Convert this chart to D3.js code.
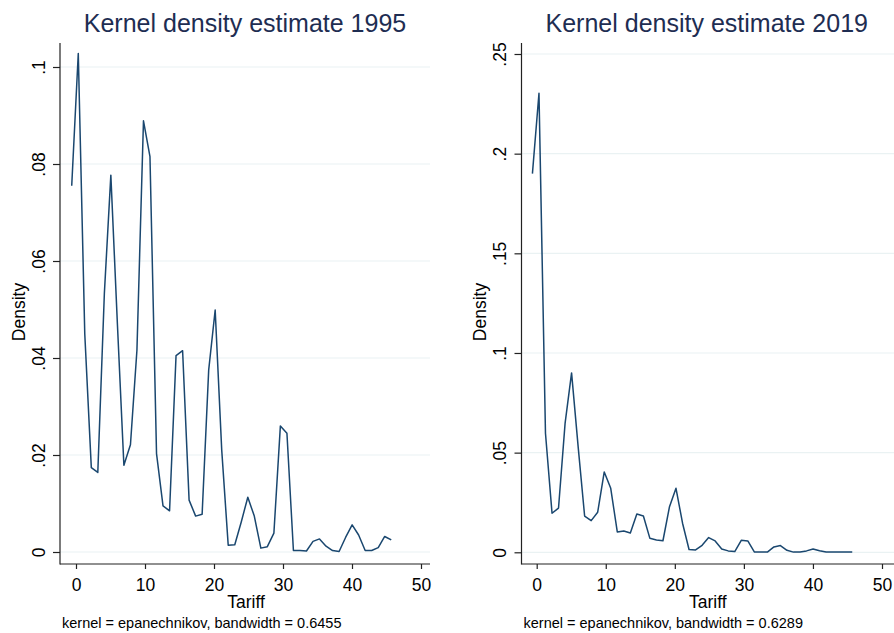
<!DOCTYPE html>
<html>
<head>
<meta charset="utf-8">
<script src="https://cdn.jsdelivr.net/npm/d3@7"></script>
<style>
  body { margin: 0; background: #fff; }
  svg { display: block; font-family: "Liberation Sans", Arial, sans-serif; }
</style>
</head>
<body>
<svg id="chart" width="894" height="633"></svg>
<script>
'use strict'

// evaluation points of the kernel density (tariff)
var tariffGrid = [-0.62, 0.33, 1.27, 2.22, 3.16, 4.11, 5.05, 6.00, 6.94, 7.89,
  8.83, 9.78, 10.72, 11.67, 12.61, 13.56, 14.50, 15.45, 16.39, 17.34,
  18.28, 19.23, 20.17, 21.12, 22.06, 23.01, 23.95, 24.90, 25.84, 26.79,
  27.73, 28.68, 29.62, 30.57, 31.51, 32.46, 33.40, 34.35, 35.29, 36.24,
  37.18, 38.13, 39.07, 40.02, 40.96, 41.91, 42.85, 43.80, 44.74, 45.69];

var density1995 = [0.0755, 0.1028, 0.0450, 0.0174, 0.0164, 0.0533, 0.0777, 0.0470, 0.0179, 0.0221,
  0.0416, 0.0889, 0.0815, 0.0203, 0.0095, 0.0085, 0.0405, 0.0415, 0.0107, 0.0074,
  0.0078, 0.0375, 0.0499, 0.0210, 0.0014, 0.0015, 0.0062, 0.0113, 0.0074, 0.0008,
  0.0011, 0.0039, 0.0260, 0.0245, 0.0003, 0.0003, 0.0002, 0.0022, 0.0027, 0.0012,
  0.0003, 0.0001, 0.0030, 0.0056, 0.0035, 0.0003, 0.0003, 0.0009, 0.0032, 0.0025];

var density2019 = [0.1900, 0.2303, 0.0597, 0.0196, 0.0222, 0.0647, 0.0900, 0.0530, 0.0182, 0.0159,
  0.0201, 0.0403, 0.0321, 0.0102, 0.0107, 0.0097, 0.0192, 0.0182, 0.0070, 0.0062,
  0.0058, 0.0229, 0.0321, 0.0146, 0.0014, 0.0012, 0.0035, 0.0074, 0.0057, 0.0017,
  0.0007, 0.0004, 0.0060, 0.0057, 0.0002, 0.0002, 0.0001, 0.0027, 0.0034, 0.0010,
  0.0001, 0.0001, 0.0007, 0.0017, 0.0008, 0.0001, 0.0001, 0.0001, 0.0001, 0.0001];

var xTicks = [0, 10, 20, 30, 40, 50];
var yTicks1995 = [0, 0.02, 0.04, 0.06, 0.08, 0.1];
var yLabels1995 = ["0", ".02", ".04", ".06", ".08", ".1"];
var yTicks2019 = [0, 0.05, 0.1, 0.15, 0.2, 0.25];
var yLabels2019 = ["0", ".05", ".1", ".15", ".2", ".25"];

var svg = d3.select("#chart");

function drawPanel(config) {
  var g = svg.append("g");

  var x = d3.scaleLinear().domain([0, 50]).range([config.x0, config.x50]);
  var y = d3.scaleLinear().domain([0, config.yMax]).range([config.y0, config.yTop]);

  // grid
  g.selectAll("line.grid")
    .data(config.yTicks)
    .enter().append("line")
    .attr("class", "grid")
    .attr("x1", config.left).attr("x2", config.right)
    .attr("y1", function(d) { return y(d); })
    .attr("y2", function(d) { return y(d); })
    .style("stroke", "#eaf2f3")
    .style("stroke-width", 1.2);

  // y axis
  var yAxis = d3.axisLeft(y)
    .tickValues(config.yTicks)
    .tickSize(7)
    .tickFormat(function(d, i) { return config.yLabels[i]; });

  var ya = g.append("g")
    .attr("transform", "translate(" + config.left + ",0)")
    .call(yAxis);
  ya.select(".domain").remove();
  ya.selectAll(".tick line").style("stroke", "#222").style("stroke-width", 1.2);
  ya.selectAll(".tick text")
    .attr("x", 0).attr("y", 0).attr("dy", 0)
    .attr("transform", "translate(" + (-15.5) + ",0) rotate(-90)")
    .style("text-anchor", "middle")
    .style("font-size", "17.5px")
    .style("fill", "#000");

  // x axis
  var xAxis = d3.axisBottom(x)
    .tickValues(xTicks)
    .tickSize(5)
    .tickPadding(6);

  var xa = g.append("g")
    .attr("transform", "translate(0," + config.bottom + ")")
    .call(xAxis);
  xa.select(".domain").remove();
  xa.selectAll(".tick line").style("stroke", "#222").style("stroke-width", 1.2);
  xa.selectAll(".tick text")
    .attr("dy", 0).attr("y", 26.5)
    .style("font-size", "17.5px")
    .style("fill", "#000");

  // axis lines
  g.append("line")
    .attr("x1", config.left).attr("x2", config.left)
    .attr("y1", config.top).attr("y2", config.bottom + 0.6)
    .style("stroke", "#222").style("stroke-width", 1.2);
  g.append("line")
    .attr("x1", config.left).attr("x2", config.right)
    .attr("y1", config.bottom).attr("y2", config.bottom)
    .style("stroke", "#222").style("stroke-width", 1.2);

  // density curve
  var line = d3.line()
    .x(function(d, i) { return x(tariffGrid[i]); })
    .y(function(d) { return y(d); });

  g.append("path")
    .datum(config.values)
    .attr("d", line)
    .style("fill", "none")
    .style("stroke", "#1a476f")
    .style("stroke-width", 1.5)
    .style("stroke-linejoin", "round");

  // titles and labels
  var mid = (config.left + config.plotRight) / 2;
  g.append("text")
    .attr("x", mid).attr("y", 32)
    .attr("text-anchor", "middle")
    .style("font-size", "25px")
    .style("fill", "#1e2d52")
    .text(config.title);

  g.append("text")
    .attr("x", mid + 1).attr("y", 607.5)
    .attr("text-anchor", "middle")
    .style("font-size", "17.5px")
    .text("Tariff");

  g.append("text")
    .attr("transform", "translate(" + (config.left - 35.5) + "," + 312 + ") rotate(-90)")
    .attr("text-anchor", "middle")
    .style("font-size", "17.5px")
    .text("Density");

  g.append("text")
    .attr("x", config.left + 2).attr("y", 628)
    .style("font-size", "14.5px")
    .text(config.note);
}

drawPanel({
  left: 60, right: 430, plotRight: 430, top: 43, bottom: 564,
  x0: 76, x50: 421, y0: 552, yTop: 67, yMax: 0.1,
  yTicks: yTicks1995, yLabels: yLabels1995,
  values: density1995,
  title: "Kernel density estimate 1995",
  note: "kernel = epanechnikov, bandwidth = 0.6455"
});

drawPanel({
  left: 521.5, right: 894, plotRight: 892, top: 43, bottom: 564,
  x0: 536.7, x50: 882, y0: 552.3, yTop: 54, yMax: 0.25,
  yTicks: yTicks2019, yLabels: yLabels2019,
  values: density2019,
  title: "Kernel density estimate 2019",
  note: "kernel = epanechnikov, bandwidth = 0.6289"
});
</script>
</body>
</html>
